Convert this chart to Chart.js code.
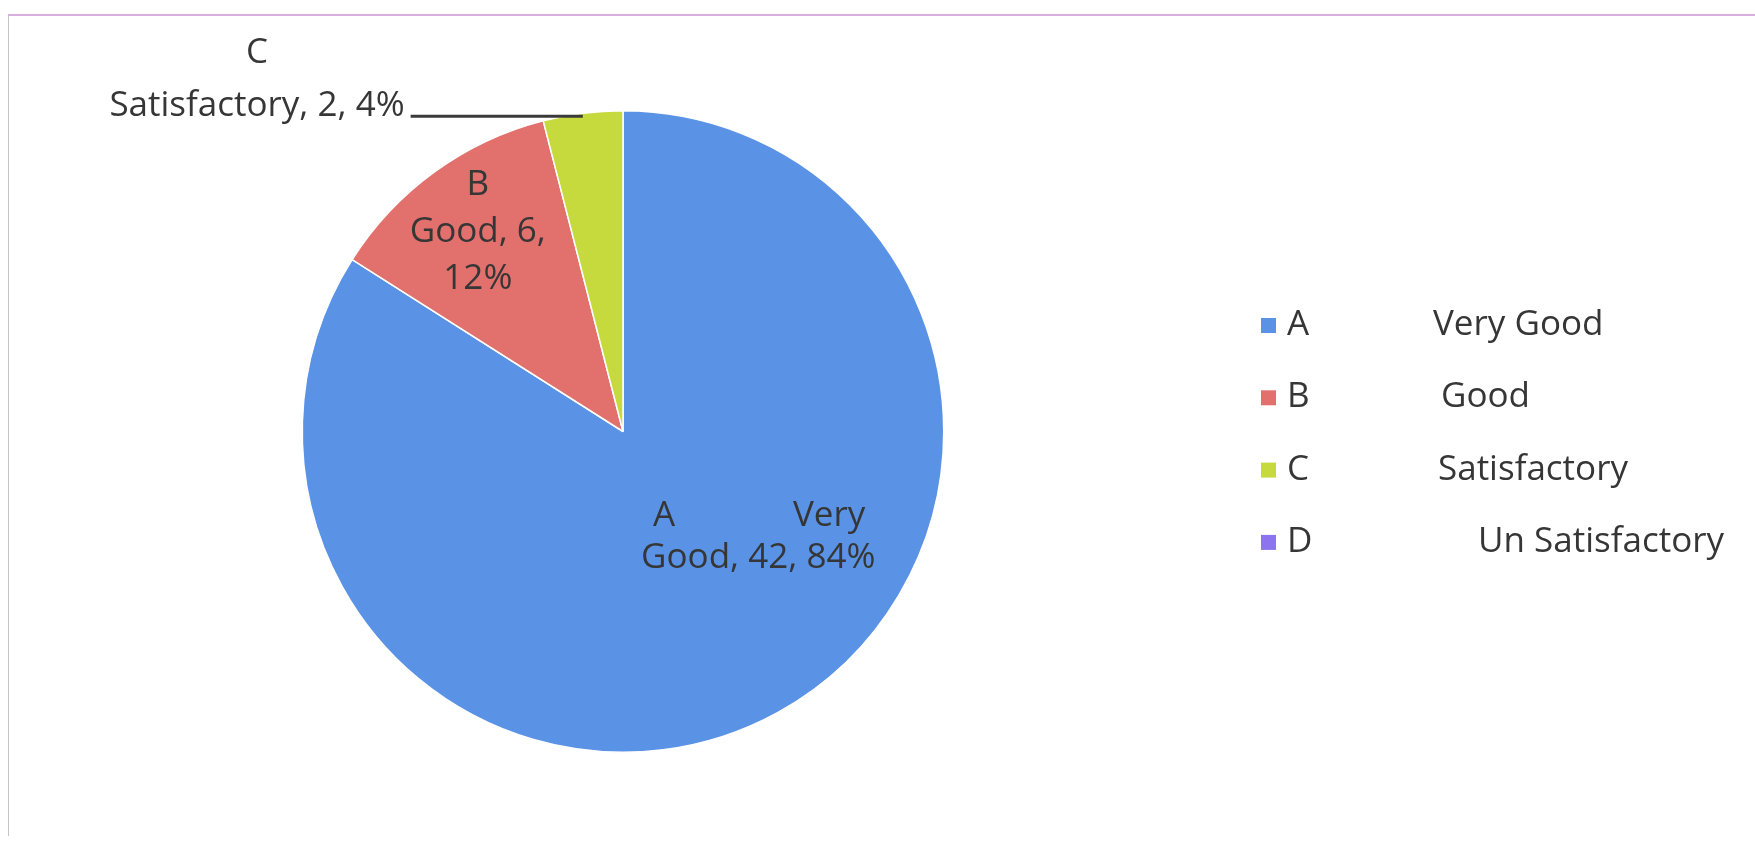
<!DOCTYPE html>
<html>
<head>
<meta charset="utf-8">
<script src="https://cdn.jsdelivr.net/npm/chart.js@4.4.1/dist/chart.umd.min.js"></script>
<style>
    body { margin: 0; background: #fff; }
    #wrap { position: relative; width: 1755px; height: 842px; }
    #frame { position: absolute; left: 8px; top: 14px; right: 0; bottom: 6px;
             border-top: 2px solid #d9aee0; border-left: 1px solid #c4c4c4; }
    canvas { position: absolute; left: 0; top: 0; }
</style>
</head>
<body>
<div id="wrap">
    <div id="frame"></div>
    <canvas id="gradeChart" width="1755" height="842"></canvas>
</div>
<script>
const grades = ['A', 'B', 'C', 'D'];
const ratings = ['Very Good', 'Good', 'Satisfactory', 'Un Satisfactory'];
const counts = [42, 6, 2, 0];
const sliceColors = ['#5a93e6', '#e2716d', '#c6da3e', '#8b74ee'];

const fontFamily = '"Open Sans", "Liberation Sans", sans-serif';
const labelFont = '35px ' + fontFamily;
const textColor = '#363636';

// data labels drawn on / next to the slices
const sliceLabels = {
    id: 'sliceLabels',
    afterDatasetsDraw(chart) {
        const ctx = chart.ctx;
        const meta = chart.getDatasetMeta(0);
        const total = counts.reduce((a, b) => a + b, 0);
        ctx.save();
        ctx.font = labelFont;
        ctx.fillStyle = textColor;
        ctx.textBaseline = 'middle';

        meta.data.forEach(function (arc, i) {
            if (!counts[i]) return;
            const p = arc.getProps(['x', 'y', 'startAngle', 'endAngle', 'outerRadius'], true);
            const pct = Math.round(counts[i] / total * 100) + '%';
            const mid = (p.startAngle + p.endAngle) / 2;
            const words = ratings[i].split(' ');

            if (i === 0) {
                // big slice: label sits lower-right of centre
                const ang = 38 * Math.PI / 180, r = 0.535 * p.outerRadius;
                const cx = p.x + Math.cos(ang) * r, cy = p.y + Math.sin(ang) * r;
                const line2 = words.slice(1).join(' ') + ', ' + counts[i] + ', ' + pct;
                const w = ctx.measureText(line2).width;
                ctx.textAlign = 'left';
                ctx.fillText(grades[i], cx - w / 2 + 12, cy - 21);
                ctx.textAlign = 'right';
                ctx.fillText(words[0], cx + w / 2 - 10, cy - 21);
                ctx.textAlign = 'center';
                ctx.fillText(line2, cx, cy + 21);
            } else if (i === 1) {
                const r = 0.77 * p.outerRadius;
                const cx = p.x + Math.cos(mid) * r, cy = p.y + Math.sin(mid) * r;
                ctx.textAlign = 'center';
                ctx.fillText(grades[i], cx, cy - 47);
                ctx.fillText(ratings[i] + ', ' + counts[i] + ',', cx, cy);
                ctx.fillText(pct, cx, cy + 47);
            } else {
                // small slice: label outside with a leader line
                const ex = p.x + Math.cos(mid) * p.outerRadius;
                const ey = p.y + Math.sin(mid) * p.outerRadius;
                const cx = 257, cy = 106;
                const line2 = ratings[i] + ', ' + counts[i] + ', ' + pct;
                const w = ctx.measureText(line2).width;
                ctx.textAlign = 'center';
                ctx.fillText(grades[i], cx, cy - 53);
                ctx.fillText(line2, cx, cy);
                ctx.strokeStyle = '#3a3a3a';
                ctx.lineWidth = 3;
                ctx.beginPath();
                ctx.moveTo(cx + w / 2 + 6, ey + 3);
                ctx.lineTo(ex, ey + 3);
                ctx.stroke();
            }
        });
        ctx.restore();
    }
};

// legend on the right
const sideLegend = {
    id: 'sideLegend',
    afterDraw(chart) {
        const ctx = chart.ctx;
        const descX = [1433, 1441, 1438, 1478];
        ctx.save();
        ctx.font = labelFont;
        ctx.fillStyle = textColor;
        ctx.textBaseline = 'middle';
        ctx.textAlign = 'left';
        grades.forEach(function (g, i) {
            const y = 325 + i * 72.3;
            ctx.fillStyle = sliceColors[i];
            ctx.fillRect(1261, y - 7, 15, 15);
            ctx.fillStyle = textColor;
            ctx.fillText(g, 1287, y);
            ctx.fillText(ratings[i], descX[i], y);
        });
        ctx.restore();
    }
};

new Chart(document.getElementById('gradeChart').getContext('2d'), {
    type: 'pie',
    data: {
        labels: grades.map((g, i) => g + ' ' + ratings[i]),
        datasets: [{
            data: counts,
            backgroundColor: sliceColors,
            borderColor: '#ffffff',
            borderWidth: 1.5
        }]
    },
    options: {
        responsive: false,
        maintainAspectRatio: false,
        animation: false,
        layout: { padding: { top: 110, bottom: 89, left: 0, right: 509 } },
        plugins: {
            legend: { display: false },
            tooltip: { enabled: false }
        }
    },
    plugins: [sliceLabels, sideLegend]
});
</script>
</body>
</html>
